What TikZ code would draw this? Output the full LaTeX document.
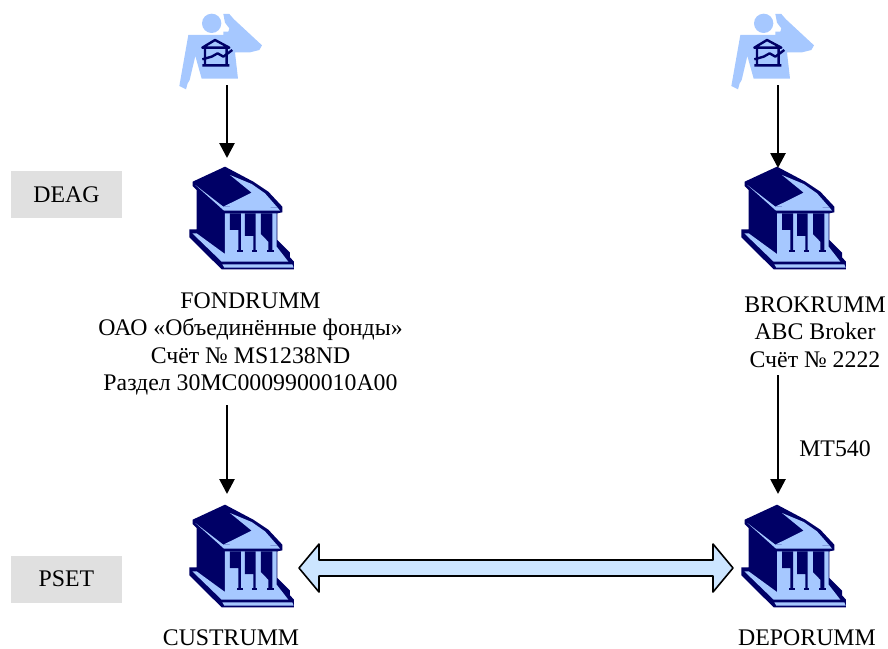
\documentclass[tikz,border=0pt]{standalone}
\usepackage{fontspec}
\setmainfont{Liberation Serif}
\usetikzlibrary{arrows.meta}
\definecolor{navy}{HTML}{000066}
\definecolor{lblue}{HTML}{A6C8FF}
\definecolor{pale}{HTML}{CCE5FF}
\definecolor{tag}{HTML}{E0E0E0}
\tikzset{
 x=1pt,y=-1pt,
 lbl/.style={font=\fontsize{23.8}{27.5}\selectfont,align=center,inner sep=0pt,text=black},
 tagbox/.style={fill=tag,minimum width=111pt,minimum height=47pt,inner sep=0pt,font=\fontsize{23.8}{26}\selectfont},
 conn/.style={draw=black,line width=2.7pt,-{Triangle[length=15pt,width=15pt]}},
 bank/.pic={
  \begin{scope}[x=0.3333pt,y=-0.3333pt]
  \fill[navy] (165,50)--(68,95)--(68,108)--(80,120)--(80,238)--(58,238)--(58,262)--(155,358)--(372,358)--(372,335)--(360,322)--(360,308)--(322,270)--(322,190)--(337,187)--(337,170)--(295,125)--(250,95)--cycle;
  \fill[lblue] (76,105)--(162,182)--(330,182)--(322,172)--(160,170)--cycle;
  \fill[lblue] (180,75)--(245,128)--(160,170)--(322,172)--(285,130)--(245,102)--cycle;
  \fill[lblue] (67,250)--(80,250)--(165,312)--(165,190)--(320,190)--(320,290)--(355,335)--(155,335)--cycle;
  \fill[navy] (180,190)--(213,190)--(213,305)--(205,305)--(205,240)--(180,240)--cycle;
  \fill[navy] (225,190)--(257,190)--(257,305)--(250,305)--(250,258)--(225,258)--cycle;
  \fill[navy] (273,190)--(307,190)--(307,305)--(295,305)--(295,275)--(273,252)--cycle;
  \fill[navy] (200,301) rectangle (218,307);
  \fill[navy] (245,301) rectangle (262,307);
  \fill[navy] (291,301) rectangle (311,307);
  \fill[lblue] (157,343)--(367,343)--(371,353)--(163,353)--cycle;
  \end{scope}
 },
 person/.pic={
  \begin{scope}[x=0.3333pt,y=-0.3333pt]
  \fill[lblue] (155,70) circle[radius=29];
  \fill[lblue] (190,42)--(208,42)--(222,58)--(306,136)--(298,150)--(270,157)--(225,157)--(234,236)--(125,236)--(106,168)--(89,240)--(83,250)--(78,268)--(58,258)--(85,105)--(190,105)--(190,95)--(205,95)--(208,85)--(195,68)--cycle;
  \draw[navy,line width=2.4pt,line join=round] (127,143)--(165,120)--(208,143)--cycle (135,145)--(135,194) (200,145)--(200,194) (127,196)--(208,196);
  \draw[navy,line width=2.4pt,line join=round] (127,178)--(155,170)--(173,160)--(190,170)--(217,150);
  \end{scope}
 }
}
\begin{document}
\begin{tikzpicture}
\useasboundingbox (0,0) rectangle (888,648);
\pic at (160,0) {person};
\pic at (712,0) {person};
\pic at (170,150) {bank};
\pic at (722,150) {bank};
\pic at (170,488) {bank};
\pic at (722,488) {bank};
\node[tagbox] (deag) at (66.5,194.5) {DEAG};
\node[tagbox] (pset) at (66.5,579) {PSET};
\node[lbl] (fond) at (250.5,344) {FONDRUMM\\ОАО «Объединённые фонды»\\Счёт № MS1238ND\\Раздел 30MC0009900010A00};
\node[lbl] (brok) at (815,332) {BROKRUMM\\ABC Broker\\Счёт № 2222};
\node[lbl] (cust) at (231,638) {CUSTRUMM};
\node[lbl] (depo) at (807,638) {DEPORUMM};
\node[lbl] (mt) at (835,449) {MT540};
\coordinate (p1) at (227,85);
\coordinate (b1) at (227,158);
\coordinate (p2) at (778,85);
\coordinate (b2) at (778,168);
\coordinate (f1) at (227,405);
\coordinate (c1) at (227,494);
\coordinate (br1) at (778,375);
\coordinate (d1) at (778,494);
\draw[conn] (p1)--(b1);
\draw[conn] (p2)--(b2);
\draw[conn] (f1)--(c1);
\draw[conn] (br1)--(d1);
\draw[draw=black,line width=1.6pt,fill=pale,line join=round] (299,568)--(319,544)--(319,560)--(713,560)--(713,544)--(733,568)--(713,592)--(713,576)--(319,576)--(319,592)--cycle;
\end{tikzpicture}
\end{document}
